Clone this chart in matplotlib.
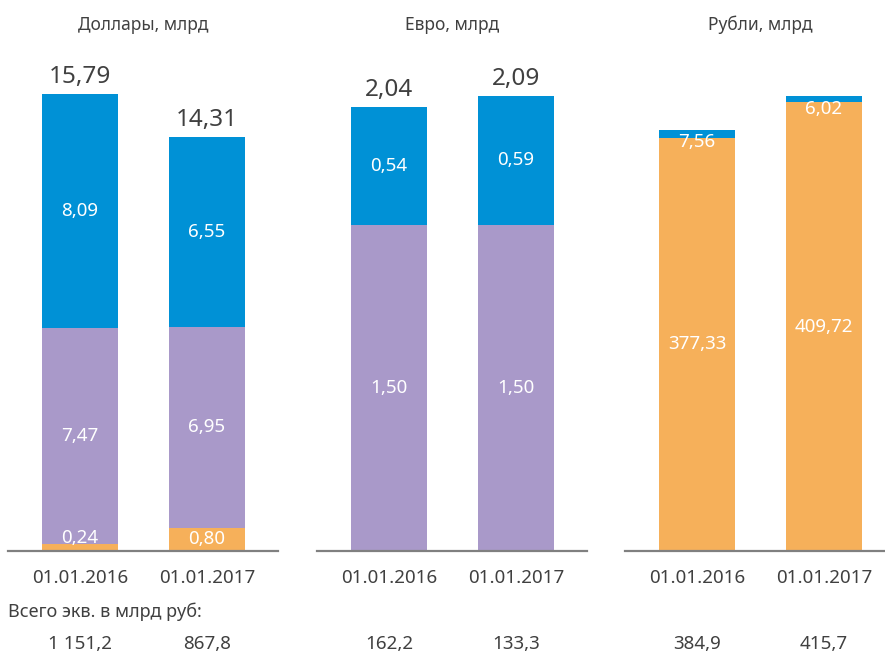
import matplotlib
matplotlib.use('Agg')
import matplotlib.pyplot as plt

plt.rcParams['font.family'] = ['Noto Sans', 'DejaVu Sans']

# data
dates = ['01.01.2016', '01.01.2017']
titles = ['Доллары, млрд', 'Евро, млрд', 'Рубли, млрд']

usd_orange = [0.24, 0.80]
usd_purple = [7.47, 6.95]
usd_blue = [8.09, 6.55]
usd_total = [15.79, 14.31]

eur_orange = [0.0, 0.0]
eur_purple = [1.50, 1.50]
eur_blue = [0.54, 0.59]
eur_total = [2.04, 2.09]

rub_orange = [377.33, 409.72]
rub_purple = [0.0, 0.0]
rub_blue = [7.56, 6.02]

rub_equiv = [['1 151,2', '867,8'], ['162,2', '133,3'], ['384,9', '415,7']]

ORANGE = '#F6B05A'
PURPLE = '#A999C9'
BLUE = '#0091D6'
TXT = '#404040'


def fmt(v):
    return f'{v:.2f}'.replace('.', ',')


panels = [
    (usd_orange, usd_purple, usd_blue, usd_total, 16.97),
    (eur_orange, eur_purple, eur_blue, eur_total, 2.256),
    (rub_orange, rub_purple, rub_blue, None, 448.4),
]

fig = plt.figure(figsize=(8.85, 6.57), dpi=100)
W, H = 885, 657
lefts = [8, 317, 625]
x = [0, 1]

for i, (orange, purple, blue, total, ytop) in enumerate(panels):
    ax = fig.add_axes([lefts[i] / W, (H - 551) / H, 270 / W, 491 / H])
    px_per_unit = 491 / ytop
    bottom = [0, 0]
    for vals, col in [(orange, ORANGE), (purple, PURPLE), (blue, BLUE)]:
        ax.bar(x, vals, width=0.6, bottom=bottom, color=col, edgecolor='none')
        for j in range(2):
            v = vals[j]
            if v <= 0:
                continue
            h_px = v * px_per_unit
            if h_px >= 22:
                ax.text(x[j], bottom[j] + v / 2, fmt(v), ha='center', va='center',
                        color='white', fontsize=13.5)
            elif bottom[j] == 0:
                # small bottom segment: label sits just above it
                ax.annotate(fmt(v), (x[j], 0), xytext=(0, 9.5), textcoords='offset points',
                            ha='center', va='center', color='white', fontsize=13.5)
            else:
                # small top segment: label hangs below its top
                ax.annotate(fmt(v), (x[j], bottom[j] + v), xytext=(0, -9.3),
                            textcoords='offset points', ha='center', va='center',
                            color='white', fontsize=13.5)
        bottom = [bottom[k] + vals[k] for k in range(2)]

    if total is not None:
        for j in range(2):
            ax.annotate(fmt(total[j]), (x[j], bottom[j]), xytext=(0, 8),
                        textcoords='offset points', ha='center', va='baseline',
                        color=TXT, fontsize=17.5)

    ax.set_xlim(-0.567, 1.559)
    ax.set_ylim(0, ytop)
    for s in ['top', 'right', 'left']:
        ax.spines[s].set_visible(False)
    ax.spines['bottom'].set_color('#808080')
    ax.spines['bottom'].set_linewidth(1.6)
    ax.set_yticks([])
    ax.set_xticks(x)
    ax.set_xticklabels(dates, fontsize=13.5, color=TXT)
    ax.tick_params(axis='x', length=0, pad=13)
    ax.set_title(titles[i], fontsize=12.5, color=TXT, pad=0, y=(491 + 30) / 491)

    for j in range(2):
        ax.text(x[j], -0.19, rub_equiv[i][j], transform=ax.get_xaxis_transform(),
                ha='center', va='center', fontsize=13.5, color=TXT)

fig.text(8 / W, 1 - 612 / H, 'Всего экв. в млрд руб:', ha='left', va='center',
         fontsize=13, color=TXT)

fig.savefig('out.png', dpi=100)
